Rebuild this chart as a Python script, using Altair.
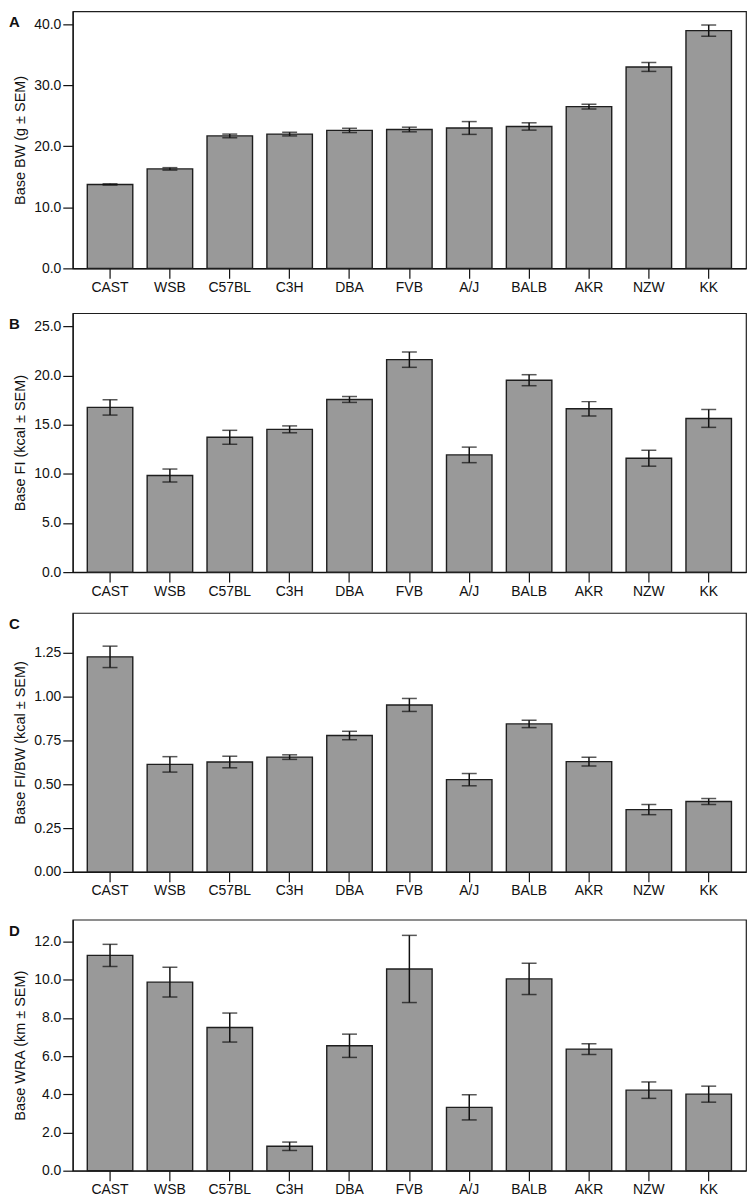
import altair as alt
import pandas as pd

strains = ["CAST", "WSB", "C57BL", "C3H", "DBA", "FVB", "A/J", "BALB", "AKR", "NZW", "KK"]

bw_mean = [13.75, 16.3, 21.7, 22.0, 22.6, 22.75, 23.0, 23.25, 26.5, 33.0, 38.95]
bw_sem = [0.1, 0.2, 0.3, 0.3, 0.35, 0.38, 1.05, 0.6, 0.38, 0.73, 0.92]

fi_mean = [16.76, 9.83, 13.72, 14.53, 17.57, 21.62, 11.93, 19.53, 16.62, 11.59, 15.64]
fi_sem = [0.78, 0.66, 0.71, 0.35, 0.30, 0.78, 0.79, 0.56, 0.73, 0.81, 0.91]

fibw_mean = [1.225, 0.6125, 0.626, 0.654, 0.777, 0.951, 0.5255, 0.843, 0.628, 0.355, 0.401]
fibw_sem = [0.061, 0.044, 0.033, 0.013, 0.024, 0.037, 0.035, 0.021, 0.025, 0.029, 0.017]

wra_mean = [11.28, 9.88, 7.5, 1.28, 6.545, 10.57, 3.32, 10.05, 6.37, 4.22, 4.01]
wra_sem = [0.58, 0.78, 0.76, 0.22, 0.61, 1.76, 0.66, 0.82, 0.28, 0.43, 0.42]

letters = ["A", "B", "C", "D"]
titles = ["Base BW (g \u00b1 SEM)", "Base FI (kcal \u00b1 SEM)",
          "Base FI/BW (kcal \u00b1 SEM)", "Base WRA (km \u00b1 SEM)"]
ymaxes = [42.1, 26.35, 1.475, 13.15]
tick_sets = [[0, 10, 20, 30, 40], [0, 5, 10, 15, 20, 25],
             [0, 0.25, 0.5, 0.75, 1.0, 1.25], [0, 2, 4, 6, 8, 10, 12]]
formats = [".1f", ".1f", ".2f", ".1f"]

FONT = "Liberation Sans"
W = 676


def panel(letter, mean, sem, title, ymax, ticks, fmt, height, extra):
    df = pd.DataFrame({"strain": strains, "mean": mean, "sem": sem})
    base = alt.Chart(df).transform_calculate(
        lo="datum.mean - datum.sem", hi="datum.mean + datum.sem"
    )
    xenc = alt.X(
        "strain:N", sort=strains,
        scale=alt.Scale(paddingInner=0.24, paddingOuter=0.243),
        axis=alt.Axis(title=None, labelAngle=0, tickSize=10, labelPadding=2,
                      labelFontSize=14),
    )
    yscale = alt.Scale(domain=[0, ymax], nice=False, zero=True)
    bars = base.mark_bar(fill="#999999", stroke="#1e1e1e", strokeWidth=1.4).encode(
        x=xenc,
        y=alt.Y("mean:Q", scale=yscale,
                axis=alt.Axis(title=title, values=ticks, format=fmt, tickSize=10,
                              labelPadding=2, labelFontSize=14, titleFontSize=14.5,
                              titlePadding=6, titleFontWeight="normal")),
    )
    err = base.mark_rule(color="#111111", strokeWidth=1.5).encode(
        x=alt.X("strain:N", sort=strains), y=alt.Y("lo:Q", scale=yscale), y2="hi:Q"
    )
    cap_lo = base.mark_tick(color="#111111", thickness=1.5, size=15,
                            orient="horizontal").encode(
        x=alt.X("strain:N", sort=strains), y=alt.Y("lo:Q", scale=yscale)
    )
    cap_hi = base.mark_tick(color="#111111", thickness=1.5, size=15,
                            orient="horizontal").encode(
        x=alt.X("strain:N", sort=strains), y=alt.Y("hi:Q", scale=yscale)
    )
    lab = alt.Chart(pd.DataFrame({"letter": [letter]})).mark_text(
        fontSize=15, fontWeight="bold", font=FONT, align="left",
        baseline="top", color="#111111"
    ).encode(text="letter:N", x=alt.value(-64), y=alt.value(4))
    layers = [bars, err, cap_lo, cap_hi, lab]
    if extra > 0:
        spacer = alt.Chart(pd.DataFrame({"letter": [letter]})).mark_rule(
            color="white", strokeWidth=1
        ).encode(x=alt.value(W - 2), x2=alt.value(W - 1),
                 y=alt.value(-extra), y2=alt.value(-extra + 1))
        layers.append(spacer)
    return alt.layer(*layers).properties(width=W, height=height)


means = [bw_mean, fi_mean, fibw_mean, wra_mean]
sems = [bw_sem, fi_sem, fibw_sem, wra_sem]
heights = [258, 260, 260, 252]
extras = [0, 3, 0, 6]

panels = [panel(letters[i], means[i], sems[i], titles[i], ymaxes[i], tick_sets[i],
                formats[i], heights[i], extras[i]) for i in range(4)]

chart = alt.vconcat(*panels, spacing=13, padding=0, background="white").configure_view(
    stroke="#1e1e1e", strokeWidth=1.2
).configure_axis(
    grid=False, domainColor="#111111", domainWidth=1.2, tickColor="#111111",
    tickWidth=1.2, labelColor="#111111", titleColor="#111111",
    labelFont=FONT, titleFont=FONT,
)

chart.save("out.html", embed_options={"renderer": "svg", "actions": False})
